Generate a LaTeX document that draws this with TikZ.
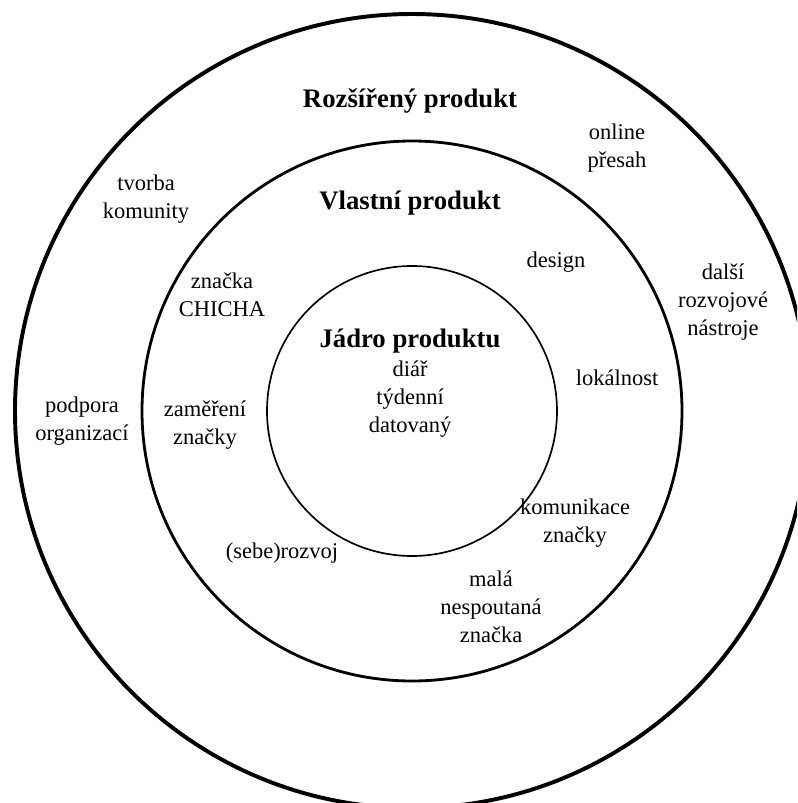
\documentclass[tikz,border=0pt]{standalone}
\usepackage{fontspec}
\setmainfont{Liberation Serif}
\usepackage{tikz}

\begin{document}
\begin{tikzpicture}[x=0.025cm, y=-0.025cm,
			ring/.style={draw, black},
			lab/.style={align=center, inner sep=1pt, font=\fontsize{16}{20}\selectfont},
			head/.style={inner sep=1pt, font=\fontsize{19}{22}\selectfont\bfseries}
				]
			\def\cx{412}
			\def\cy{411}
			\useasboundingbox (0,0) rectangle (797,803);
			\clip (0,0) rectangle (797,803);

			% circles
			\draw[ring, line width=2.8pt] (\cx,\cy) circle [radius=397];
			\draw[ring, line width=2pt] (\cx,\cy) circle [radius=270];
			\draw[ring, line width=1.2pt] (\cx,\cy) circle [radius=145];

			% headings
			\node[head] (augm) at (410,101) {Rozšířený produkt};
			\node[head] (actual) at (410,203) {Vlastní produkt};
			\node[head] (core) at (410,341) {Jádro produktu};

			% core
			\node[lab] (diary) at (410,399) {diář\\týdenní\\datovaný};

			% actual product
			\node[lab] (design) at (556,262) {design};
			\node[lab] (brand) at (222,295) {značka\\CHICHA};
			\node[lab] (local) at (617,378) {lokálnost};
			\node[lab] (focus) at (205,425) {zaměření\\značky};
			\node[lab] (comm) at (575,523) {komunikace\\značky};
			\node[lab] (selfdev) at (282,553) {(sebe)rozvoj};
			\node[lab] (small) at (491,607) {malá\\nespoutaná\\značka};

			% augmented product
			\node[lab] (online) at (617,148) {online\\přesah};
			\node[lab] (community) at (146,199) {tvorba\\komunity};
			\node[lab] (tools) at (723,302) {další\\rozvojové\\nástroje};
			\node[lab] (support) at (82,421) {podpora\\organizací};
	\end{tikzpicture}
\end{document}
